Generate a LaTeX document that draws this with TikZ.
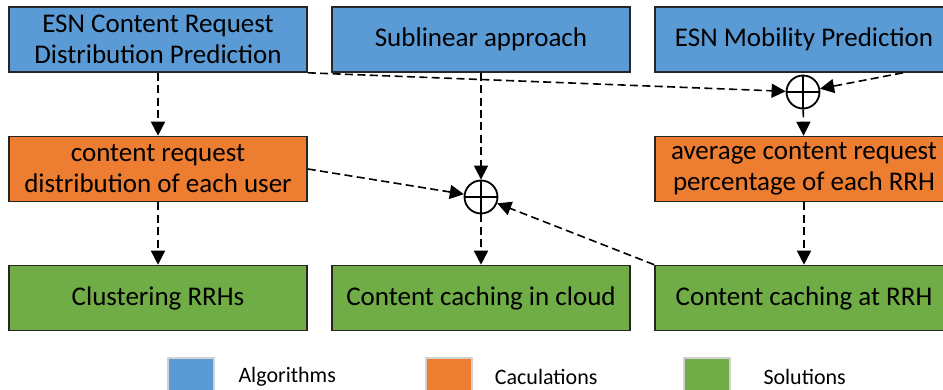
\documentclass[tikz,border=0pt]{standalone}
\usepackage{fontspec}
\setmainfont{Carlito}
\usetikzlibrary{arrows.meta,positioning}
\definecolor{algoblue}{HTML}{5B9BD5}
\definecolor{calcorange}{HTML}{ED7D31}
\definecolor{solgreen}{HTML}{70AD47}
\tikzset{
  box/.style={draw=black!85, line width=0.8pt, minimum width=149pt, minimum height=32.5pt,
    inner sep=0pt, align=center, font=\fontsize{13.5}{15.5}\selectfont},
  algobox/.style={box, fill=algoblue},
  calcbox/.style={box, fill=calcorange},
  solbox/.style={box, fill=solgreen},
  sumnode/.style={circle, draw, line width=0.9pt, minimum size=16.5pt, inner sep=0pt, fill=white,
    path picture={\draw[line width=0.9pt] (path picture bounding box.north) -- (path picture bounding box.south)
      (path picture bounding box.west) -- (path picture bounding box.east);}},
  flow/.style={thick, dash pattern=on 4pt off 2.2pt, -{Triangle[length=7pt,width=7pt]}},
  keybox/.style={draw=gray!35, line width=1pt, minimum size=23pt, inner sep=0pt},
  keytext/.style={inner sep=0pt, font=\fontsize{11}{13}\selectfont}
}
\begin{document}
\begin{tikzpicture}[x=0.5pt, y=-0.5pt]
    \clip (0,0) rectangle (943,390);
    \node[algobox] (esncrd) at (158,39.5) {ESN Content Request\\Distribution Prediction};
    \node[algobox] (sublin) at (481,39.5) {Sublinear approach};
    \node[algobox] (esnmob) at (804,39.5) {ESN Mobility Prediction};
    \node[calcbox] (userdist) at (158,169) {content request\\distribution of each user};
    \node[calcbox] (rrhperc) at (804,169) {average content request\\percentage of each RRH};
    \node[solbox] (cluster) at (158,298) {Clustering RRHs};
    \node[solbox] (cloud) at (481,298) {Content caching in cloud};
    \node[solbox] (atrrh) at (804,298) {Content caching at RRH};
    \node[sumnode] (sumcloud) at (481,197) {};
    \node[sumnode] (sumrrh) at (803,92) {};

    \draw[flow] (esncrd) -- (userdist);
    \draw[flow] (userdist) -- (cluster);
    \draw[flow] (esncrd.south east) -- (sumrrh);
    \draw[flow] ([xshift=49.5pt]esnmob.south) -- (sumrrh);
    \draw[flow] (sumrrh) -- (rrhperc);
    \draw[flow] (rrhperc) -- (atrrh);
    \draw[flow] (sublin) -- (sumcloud);
    \draw[flow] (userdist.east) -- (sumcloud);
    \draw[flow] (atrrh.north west) -- (sumcloud);
    \draw[flow] (sumcloud) -- (cloud);

    \node[keybox, fill=algoblue] (keyalgo) at (190.5,381) {};
    \node[keytext, right=11.8pt of keyalgo, yshift=2pt] (lblalgo) {Algorithms};
    \node[keybox, fill=calcorange] (keycalc) at (448.5,381) {};
    \node[keytext, right=11pt of keycalc, yshift=2pt] (lblcalc) {Caculations};
    \node[keybox, fill=solgreen] (keysol) at (706.5,381) {};
    \node[keytext, right=16.3pt of keysol, yshift=2pt] (lblsol) {Solutions};
\end{tikzpicture}
\end{document}
